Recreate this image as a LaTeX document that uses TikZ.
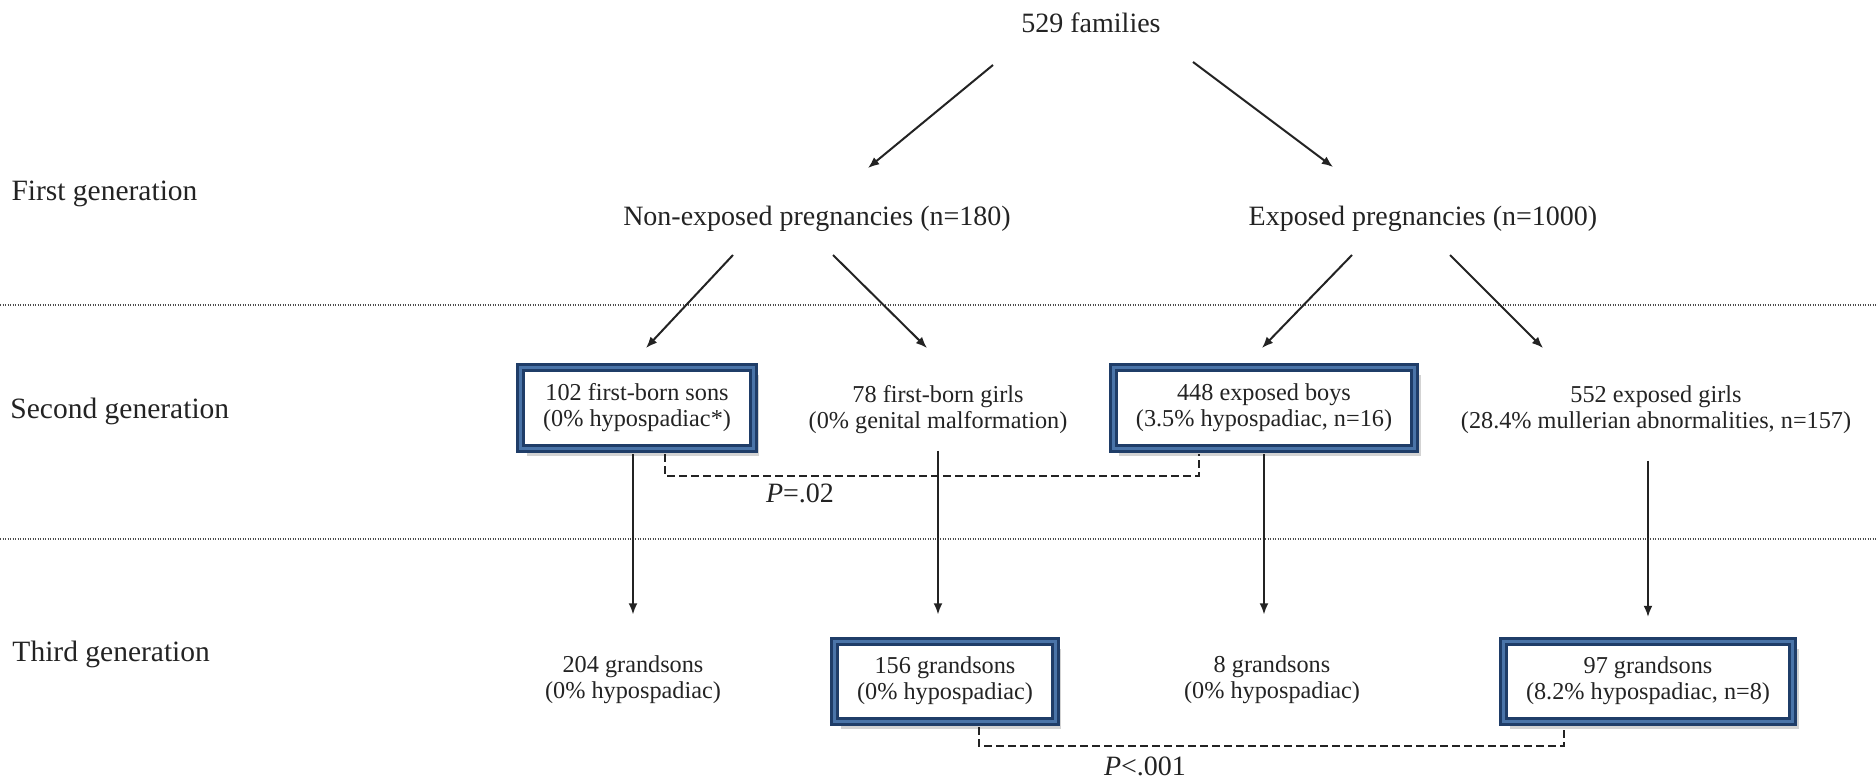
\documentclass[tikz,border=0pt]{standalone}
\usepackage{fontspec}
\setmainfont{Liberation Serif}
\usepackage{tikz}
\usetikzlibrary{positioning,arrows.meta,calc,shadows}

\definecolor{boxdark}{RGB}{31,61,104}
\definecolor{boxmid}{RGB}{74,116,168}
\definecolor{ink}{RGB}{35,35,35}

\tikzset{
  toptext/.style={text=ink,inner sep=0pt},
  sidetext/.style={font=\fontsize{11.8}{14}\selectfont,text=ink,anchor=west,inner sep=0pt},
  gentext/.style={font=\fontsize{9.7}{10.4}\selectfont,text=ink,align=center,inner xsep=9pt,minimum height=32pt},
  hlbox/.style={gentext,draw=boxdark,line width=1.2pt,double=boxmid,double distance=1.2pt,fill=white,
    drop shadow={shadow xshift=2.4pt,shadow yshift=-3pt,opacity=0.35}},
  flow/.style={->,line width=0.8pt,draw=ink},
  sepline/.style={black!70,line width=0.5pt,dash pattern=on 0.4pt off 0.6pt},
  pline/.style={ink,line width=0.55pt,dash pattern=on 3pt off 1.8pt},
}

\begin{document}
\begin{tikzpicture}[font=\fontsize{11.2}{13}\selectfont,>={Latex[length=4.5pt,width=3.6pt]},x=0.4pt,y=-0.4pt]
\useasboundingbox (0,0) rectangle (1876,779);

% ================= Separators and generation labels =================
\draw[sepline] (0,305) -- (1876,305);
\draw[sepline] (0,539) -- (1876,539);
\node[sidetext] (gen1) at (11,194) {First generation};
\node[sidetext] (gen2) at (10,411) {Second generation};
\node[sidetext] (gen3) at (12,654) {Third generation};

% ================= First generation =================
\node[toptext] (fam) at (1091,23) {529 families};
\node[toptext] (nonexp) at (817,219) {Non-exposed pregnancies (n=180)};
\node[toptext] (exp) at (1423,219) {Exposed pregnancies (n=1000)};

% ================= Second generation =================
\node[hlbox] (sons1) at (637,408) {102 first-born sons\\(0\% hypospadiac*)};
\node[gentext] (girls1) at (938,410) {78 first-born girls\\(0\% genital malformation)};
\node[hlbox] (boys2) at (1264,408) {448 exposed boys\\(3.5\% hypospadiac, n=16)};
\node[gentext] (girls2) at (1656,410) {552 exposed girls\\(28.4\% mullerian abnormalities, n=157)};

% ================= Third generation =================
\node[gentext] (gs204) at (633,680) {204 grandsons\\(0\% hypospadiac)};
\node[hlbox] (gs156) at (945,681) {156 grandsons\\(0\% hypospadiac)};
\node[gentext] (gs8) at (1272,680) {8 grandsons\\(0\% hypospadiac)};
\node[hlbox] (gs97) at (1648,681) {97 grandsons\\(8.2\% hypospadiac, n=8)};

% ================= Arrows =================
\draw[flow] ($(fam)+(-98,42)$) -- ($(nonexp)+(51,-51)$);
\draw[flow] ($(fam)+(102,39)$) -- ($(exp)+(-90,-52)$);
\draw[flow] ($(nonexp)+(-84,36)$) -- ($(sons1)+(9,-60)$);
\draw[flow] ($(nonexp)+(16,36)$) -- ($(girls1)+(-11,-62)$);
\draw[flow] ($(exp)+(-71,36)$) -- ($(boys2)+(-2,-60)$);
\draw[flow] ($(exp)+(27,36)$) -- ($(girls2)+(-113,-62)$);
\draw[flow,shorten <=1.8pt,shorten >=10pt] (sons1.south -| gs204) -- (gs204.north);
\draw[flow,shorten >=10pt] (girls1.south) -- (girls1.south |- gs156.north);
\draw[flow,shorten <=1.8pt,shorten >=10pt] (boys2.south) -- (boys2.south |- gs8.north);
\draw[flow,shorten <=4pt,shorten >=9pt] (girls2.south -| gs97) -- (gs97.north);

% ================= Comparisons =================
\draw[pline] ($(sons1.south)+(28,4.5)$) -- ++(0,22) -| ($(boys2.south)+(-65,4.5)$);
\node[toptext] (pval1) at (800,493) {\textit{P}=.02};
\draw[pline] ($(gs156.south)+(34,4.5)$) -- ++(0,19) -| ($(gs97.south)+(-84,4.5)$);
\node[toptext] (pval2) at (1145,766) {\textit{P}<.001};
\end{tikzpicture}
\end{document}
